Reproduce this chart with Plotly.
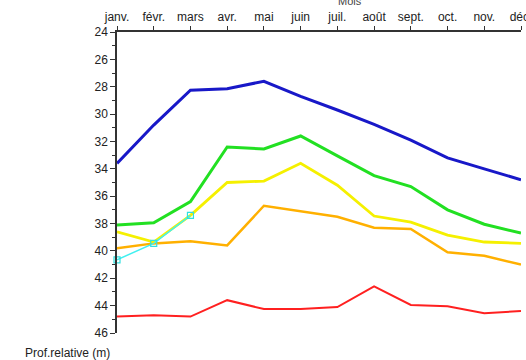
import plotly.graph_objects as go

# Month labels along the top axis
months = ["janv.", "févr.", "mars", "avr.", "mai", "juin",
          "juil.", "août", "sept.", "oct.", "nov.", "déc."]

# Relative depth (m) for each monthly series
depth_blue = [33.6, 30.8, 28.25, 28.15, 27.6, 28.7, 29.7, 30.75, 31.9, 33.2, 34.0, 34.8]
depth_green = [38.1, 37.95, 36.4, 32.4, 32.55, 31.6, 33.05, 34.5, 35.3, 37.0, 38.05, 38.7]
depth_yellow = [38.6, 39.35, 37.4, 35.0, 34.9, 33.6, 35.2, 37.45, 37.9, 38.85, 39.35, 39.45]
depth_orange = [39.8, 39.45, 39.3, 39.6, 36.7, 37.1, 37.5, 38.3, 38.4, 40.1, 40.35, 41.0]
depth_red = [44.8, 44.7, 44.8, 43.6, 44.25, 44.25, 44.1, 42.6, 43.95, 44.05, 44.55, 44.4]
depth_cyan = [40.65, 39.45, 37.4]

x_idx = list(range(len(months)))

fig = go.Figure()

series = [
    (depth_red, "#ff2020", 2.0),
    (depth_orange, "#ffb000", 2.5),
    (depth_yellow, "#f5f000", 2.8),
    (depth_green, "#22e022", 3.0),
    (depth_blue, "#1818c8", 3.0),
]
for vals, color, w in series:
    fig.add_trace(go.Scatter(
        x=x_idx, y=vals, mode="lines",
        line=dict(color=color, width=w),
        showlegend=False, hoverinfo="skip", cliponaxis=False,
    ))

fig.add_trace(go.Scatter(
    x=x_idx[:len(depth_cyan)], y=depth_cyan, mode="lines+markers",
    line=dict(color="#40f0f0", width=1.5),
    marker=dict(symbol="square-open", size=6, color="#30e0e0",
                line=dict(width=1.2, color="#30e0e0")),
    showlegend=False, hoverinfo="skip", cliponaxis=False,
))

axis_font = dict(family="Liberation Sans, Arial, sans-serif", size=12, color="#222222")

fig.update_xaxes(
    side="top", range=[0, 11], tickmode="array",
    tickvals=x_idx, ticktext=months,
    showgrid=False, zeroline=False,
    showline=True, linecolor="#333333", linewidth=1.5,
    ticks="outside", ticklen=4, tickcolor="#333333",
    tickfont=axis_font, ticklabelstandoff=0,
    ticklabeloverflow="allow", automargin=False,
)
fig.update_yaxes(
    range=[46, 24], tickmode="linear", tick0=24, dtick=2,
    showgrid=False, zeroline=False,
    showline=True, linecolor="#333333", linewidth=1.5,
    ticks="outside", ticklen=5, tickcolor="#333333",
    minor=dict(dtick=1, ticks="outside", ticklen=3, tickcolor="#333333"),
    tickfont=axis_font, automargin=False,
)

fig.add_annotation(
    text="Prof.relative (m)", xref="paper", yref="paper",
    x=-94 / 404, y=-20 / 301, xanchor="left", yanchor="middle",
    showarrow=False, font=axis_font,
)
fig.add_annotation(
    text="Mois", xref="paper", yref="paper",
    x=(350 - 117) / 404, y=(333 - 1) / 301, xanchor="center", yanchor="middle",
    showarrow=False, font=dict(family="Liberation Sans, Arial, sans-serif", size=11, color="#444444"),
)

fig.update_layout(
    width=526, height=360,
    margin=dict(l=117, r=5, t=32, b=27, autoexpand=False),
    paper_bgcolor="white", plot_bgcolor="white",
)

fig.write_html("out.html")
